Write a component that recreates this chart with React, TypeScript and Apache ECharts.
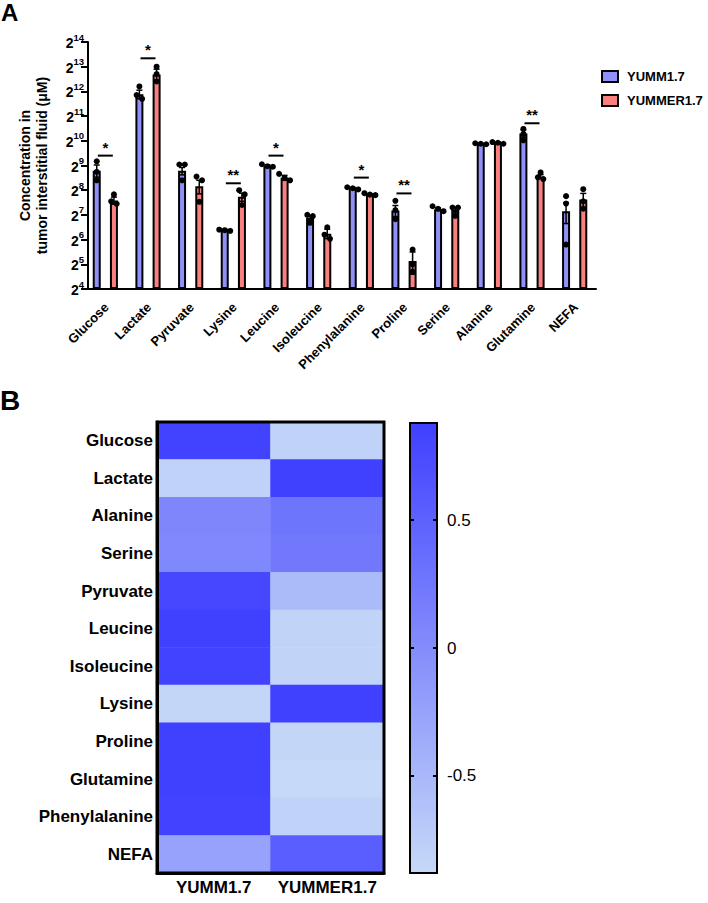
import React, { useEffect, useRef } from "react";
import * as echarts from "echarts";

const FONT = "'Liberation Sans', Arial, Helvetica, sans-serif";

// ---------- Panel A data (log2 of concentration, µM) ----------
const categories = ["Glucose", "Lactate", "Pyruvate", "Lysine", "Leucine", "Isoleucine", "Phenylalanine", "Proline", "Serine", "Alanine", "Glutamine", "NEFA"];
const yummMean = [8.79, 11.88, 8.79, 6.38, 8.99, 6.87, 8.08, 7.18, 7.23, 9.88, 10.3, 7.15];
const yummerMean = [7.58, 12.68, 8.16, 7.73, 8.5, 6.24, 7.83, 5.13, 7.2, 9.91, 8.54, 7.62];
const yummErrLow = [8.53, 11.7, 8.62, 6.35, 8.95, 6.76, 8.05, 6.93, 7.18, 9.86, 10.15, 6.65];
const yummErrHigh = [9.02, 12.05, 8.92, 6.41, 9.03, 6.97, 8.11, 7.38, 7.28, 9.9, 10.45, 7.5];
const yummerErrLow = [7.43, 12.45, 7.85, 7.55, 8.4, 6.04, 7.8, 4.6, 7.08, 9.88, 8.47, 7.3];
const yummerErrHigh = [7.72, 12.9, 8.4, 7.88, 8.6, 6.42, 7.86, 5.5, 7.3, 9.94, 8.63, 7.87];
const yummDots = [
  [9.17, 8.74, 8.4], [12.2, 11.85, 11.7], [9.04, 9.04, 8.4], [6.4, 6.35, 6.38],
  [9.05, 8.97, 8.95], [7.0, 6.95, 6.68], [8.12, 8.08, 8.03], [7.57, 7.19, 6.83],
  [7.35, 7.25, 7.15], [9.9, 9.88, 9.86], [10.48, 10.28, 10.02], [7.76, 7.46, 5.8],
];
const yummerDots = [
  [7.83, 7.55, 7.45], [13.0, 12.7, 12.4], [8.55, 8.4, 7.53], [8.0, 7.83, 7.4],
  [8.66, 8.5, 8.4], [6.5, 6.2, 6.03], [7.88, 7.82, 7.8], [5.6, 5.0, 4.7],
  [7.3, 7.3, 6.96], [9.95, 9.92, 9.88], [8.72, 8.52, 8.45], [8.04, 7.55, 7.25],
];
const sigCategory = [0, 1, 3, 4, 6, 7, 10];
const sigLevel = [9.4, 13.34, 8.28, 9.4, 8.51, 7.87, 10.71];
const sigLabels = ["*", "*", "**", "*", "*", "**", "**"];
const yTicks = [4, 14];

// ---------- Panel B data ----------
const heatRows = ["Glucose", "Lactate", "Alanine", "Serine", "Pyruvate", "Leucine", "Isoleucine", "Lysine", "Proline", "Glutamine", "Phenylalanine", "NEFA"];
const heatCols = ["YUMM1.7", "YUMMER1.7"];
const heatYumm = [0.85, -0.8, 0.07, 0.05, 0.8, 0.88, 0.85, -0.85, 0.9, 0.9, 0.86, -0.25];
const heatYummer = [-0.8, 0.88, 0.27, 0.24, -0.52, -0.82, -0.82, 0.88, -0.84, -0.88, -0.8, 0.53];
const scaleMin = -0.88;
const scaleMax = 0.88;
const scaleTicks = [-0.5, 0, 0.5];

const BLUE = "#9090fa";
const RED = "#fa8080";
const HEAT_LOW = "#c6d9f8";
const HEAT_HIGH = "#4040ff";

const BAR_W = 8;
const BAR_GAP = 1.15;
const OFF = (BAR_W + BAR_W * BAR_GAP) / 2;

function jitter(vals: number[]): number[] {
  const idx = vals.map((v, i) => i).sort((a, b) => vals[b] - vals[a]);
  const out = new Array(vals.length).fill(0);
  let cluster: number[] = [];
  const flush = () => {
    const n = cluster.length;
    cluster.forEach((ci, k) => (out[ci] = (k - (n - 1) / 2) * 5.5));
    cluster = [];
  };
  idx.forEach((i, k) => {
    if (k > 0 && vals[idx[k - 1]] - vals[i] >= 0.2) flush();
    cluster.push(i);
  });
  flush();
  return out;
}

function buildOption() {
  const errData = (lo: number[], hi: number[]) => lo.map((l, i) => [i, l, hi[i]]);
  const dotData = (dots: number[][], sign: number) => {
    const d: number[][] = [];
    dots.forEach((arr, i) => {
      const j = jitter(arr);
      arr.forEach((v, k) => d.push([i, v, sign * OFF + j[k]]));
    });
    return d;
  };
  const errSeries = (lo: number[], hi: number[], sign: number) => ({
    type: "custom",
    xAxisIndex: 0,
    yAxisIndex: 0,
    z: 3,
    silent: true,
    data: errData(lo, hi),
    renderItem: (params: any, api: any) => {
      const c = api.value(0);
      const a = api.coord([c, api.value(1)]);
      const b = api.coord([c, api.value(2)]);
      const x = a[0] + sign * OFF;
      const st = { stroke: "#000", lineWidth: 1.5 };
      return {
        type: "group",
        children: [
          { type: "line", shape: { x1: x, y1: a[1], x2: x, y2: b[1] }, style: st },
          { type: "line", shape: { x1: x - 3, y1: b[1], x2: x + 3, y2: b[1] }, style: st },
          { type: "line", shape: { x1: x - 3, y1: a[1], x2: x + 3, y2: a[1] }, style: st },
        ],
      };
    },
  });
  const dotSeries = (dots: number[][], sign: number) => ({
    type: "custom",
    xAxisIndex: 0,
    yAxisIndex: 0,
    z: 4,
    silent: true,
    data: dotData(dots, sign),
    renderItem: (params: any, api: any) => {
      const p = api.coord([api.value(0), api.value(1)]);
      return { type: "circle", shape: { cx: p[0] + api.value(2), cy: p[1], r: 3 }, style: { fill: "#000" } };
    },
  });

  const heatData: number[][] = [];
  heatRows.forEach((r, i) => {
    heatData.push([0, i, heatYumm[i]]);
    heatData.push([1, i, heatYummer[i]]);
  });

  const series: any[] = [
    {
      name: "YUMM1.7",
      type: "bar",
      xAxisIndex: 0,
      yAxisIndex: 0,
      barWidth: BAR_W,
      barGap: `${BAR_GAP * 100}%`,
      data: yummMean,
      itemStyle: { color: BLUE, borderColor: "#000", borderWidth: 2 },
    },
    {
      name: "YUMMER1.7",
      type: "bar",
      xAxisIndex: 0,
      yAxisIndex: 0,
      barWidth: BAR_W,
      barGap: `${BAR_GAP * 100}%`,
      data: yummerMean,
      itemStyle: { color: RED, borderColor: "#000", borderWidth: 2 },
    },
    errSeries(yummErrLow, yummErrHigh, -1),
    errSeries(yummerErrLow, yummerErrHigh, 1),
    dotSeries(yummDots, -1),
    dotSeries(yummerDots, 1),
    {
      type: "custom",
      xAxisIndex: 0,
      yAxisIndex: 0,
      z: 4,
      silent: true,
      data: sigCategory.map((c, i) => [c, sigLevel[i]]),
      renderItem: (params: any, api: any) => {
        const p = api.coord([api.value(0), api.value(1)]);
        return {
          type: "group",
          children: [
            { type: "line", shape: { x1: p[0] - 7.5, y1: p[1], x2: p[0] + 7.5, y2: p[1] }, style: { stroke: "#000", lineWidth: 2 } },
            {
              type: "text",
              style: {
                x: p[0],
                y: p[1] - 1,
                text: sigLabels[params.dataIndex],
                fill: "#000",
                font: `bold 15px ${FONT}`,
                align: "center",
                verticalAlign: "bottom",
              },
            },
          ],
        };
      },
    },
    {
      type: "heatmap",
      xAxisIndex: 1,
      yAxisIndex: 1,
      data: heatData,
      itemStyle: { borderWidth: 0 },
      emphasis: { disabled: true },
      silent: true,
    },
    {
      type: "custom",
      xAxisIndex: 1,
      yAxisIndex: 1,
      z: 10,
      silent: true,
      data: [[0, 0]],
      renderItem: (params: any) => {
        const cs = params.coordSys;
        return { type: "rect", shape: { x: cs.x, y: cs.y, width: cs.width, height: cs.height }, style: { fill: "none", stroke: "#000", lineWidth: 3 } };
      },
    },
    {
      type: "custom",
      xAxisIndex: 2,
      yAxisIndex: 2,
      z: 2,
      silent: true,
      data: [[0, 0]],
      renderItem: (params: any) => {
        const cs = params.coordSys;
        return {
          type: "rect",
          shape: { x: cs.x, y: cs.y, width: cs.width, height: cs.height },
          style: {
            fill: {
              type: "linear", x: 0, y: 1, x2: 0, y2: 0,
              colorStops: [{ offset: 0, color: HEAT_LOW }, { offset: 1, color: HEAT_HIGH }],
            },
            stroke: "#000",
            lineWidth: 2,
          },
        };
      },
    },
    {
      // rotated category labels of panel A
      type: "custom",
      xAxisIndex: 0,
      yAxisIndex: 0,
      z: 5,
      silent: true,
      data: categories.map((c, i) => [i, yTicks[0]]),
      renderItem: (params: any, api: any) => {
        const p = api.coord([api.value(0), api.value(1)]);
        return {
          type: "text",
          x: p[0] + 1,
          y: p[1] + 16,
          rotation: Math.PI / 4,
          style: {
            text: categories[params.dataIndex],
            fill: "#000",
            font: `bold 13px ${FONT}`,
            align: "right",
            verticalAlign: "middle",
          },
        };
      },
    },
  ];

  const boldLabel = { color: "#000", fontWeight: "bold", fontFamily: FONT };

  return {
    animation: false,
    textStyle: { fontFamily: FONT },
    title: [
      { text: "A", left: 1, top: 0, padding: 0, textStyle: { fontSize: 24, fontWeight: "bold", color: "#000", fontFamily: FONT } },
      { text: "B", left: 0, top: 386, padding: 0, textStyle: { fontSize: 28, fontWeight: "bold", color: "#000", fontFamily: FONT } },
    ],
    legend: {
      data: ["YUMM1.7", "YUMMER1.7"],
      orient: "vertical",
      left: 601,
      top: 70,
      itemWidth: 16,
      itemHeight: 11,
      itemGap: 11,
      icon: "rect",
      padding: 0,
      textStyle: { ...boldLabel, fontSize: 13, padding: [0, 0, 0, 4] },
    },
    visualMap: {
      type: "continuous",
      show: false,
      seriesIndex: 7,
      min: scaleMin,
      max: scaleMax,
      inRange: { color: [HEAT_LOW, HEAT_HIGH] },
    },
    grid: [
      { left: 84, top: 42, width: 512, height: 247 },
      { left: 157, top: 422, width: 227, height: 451 },
      { left: 410, top: 423, width: 27, height: 450 },
    ],
    xAxis: [
      {
        type: "category",
        gridIndex: 0,
        data: categories,
        z: 5,
        axisLine: { lineStyle: { color: "#000", width: 2 } },
        axisTick: { alignWithLabel: true, interval: 0, length: 6, lineStyle: { color: "#000", width: 2 } },
        axisLabel: { show: false },
      },
      {
        type: "category",
        gridIndex: 1,
        data: heatCols,
        z: 5,
        axisLine: { lineStyle: { color: "#000", width: 3 } },
        axisTick: { alignWithLabel: true, interval: 0, length: 8, lineStyle: { color: "#000", width: 3 } },
        axisLabel: { ...boldLabel, fontSize: 17, margin: 6, interval: 0, hideOverlap: false },
      },
      { type: "category", gridIndex: 2, data: [""], show: false },
    ],
    yAxis: [
      {
        type: "value",
        gridIndex: 0,
        min: yTicks[0],
        max: yTicks[1],
        interval: 1,
        startValue: yTicks[0],
        offset: -4,
        z: 5,
        name: "Concentration in\ntumor interstitial fluid (μM)",
        nameLocation: "middle",
        nameGap: 38,
        nameRotate: 90,
        nameTextStyle: { ...boldLabel, fontSize: 14, lineHeight: 17 },
        axisLine: { show: true, lineStyle: { color: "#000", width: 2 } },
        axisTick: { show: true, length: 7, lineStyle: { color: "#000", width: 2 } },
        splitLine: { show: false },
        axisLabel: {
          margin: 4,
          formatter: (v: number) => `{b|2}{s|${v}}`,
          rich: {
            b: { ...boldLabel, fontSize: 14, lineHeight: 16, verticalAlign: "bottom" },
            s: { ...boldLabel, fontSize: 9.5, lineHeight: 10, padding: [0, 0, 8, 0], verticalAlign: "bottom" },
          },
        },
      },
      {
        type: "category",
        gridIndex: 1,
        data: heatRows,
        inverse: true,
        z: 5,
        axisLine: { lineStyle: { color: "#000", width: 3 } },
        axisTick: { alignWithLabel: true, interval: 0, length: 8, lineStyle: { color: "#000", width: 3 } },
        axisLabel: { ...boldLabel, fontSize: 17, margin: 4, interval: 0 },
      },
      {
        type: "value",
        gridIndex: 2,
        position: "right",
        min: scaleMin,
        max: scaleMax,
        z: 5,
        axisLine: { show: true, lineStyle: { color: "#000", width: 2 } },
        axisTick: { show: true, inside: true, length: 4, customValues: scaleTicks, lineStyle: { color: "#000", width: 2 } },
        axisLabel: { color: "#000", fontSize: 17, fontFamily: FONT, margin: 10, customValues: scaleTicks },
        splitLine: { show: false },
      },
      {
        type: "value",
        gridIndex: 2,
        position: "left",
        min: scaleMin,
        max: scaleMax,
        z: 5,
        axisLine: { show: true, lineStyle: { color: "#000", width: 2 } },
        axisTick: { show: true, inside: true, length: 4, customValues: scaleTicks, lineStyle: { color: "#000", width: 2 } },
        axisLabel: { show: false },
        splitLine: { show: false },
      },
    ],
    series,
  };
}

export default function App() {
  const ref = useRef<HTMLDivElement>(null);
  useEffect(() => {
    if (!ref.current) return;
    const chart = echarts.init(ref.current, undefined, { renderer: "svg" });
    chart.setOption(buildOption() as any);
    return () => chart.dispose();
  }, []);
  return (
    <div
      ref={ref}
      style={{ position: "fixed", left: 0, top: 0, width: 708, height: 903, background: "#fff" }}
    />
  );
}
